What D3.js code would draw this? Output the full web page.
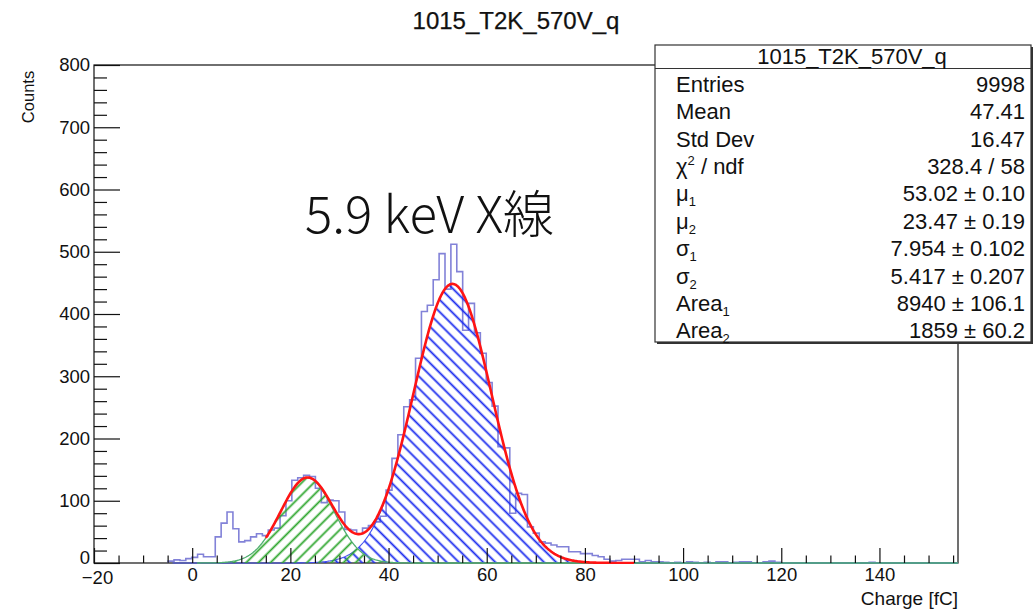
<!DOCTYPE html>
<html>
<head>
<meta charset="utf-8">
<script src="https://cdn.jsdelivr.net/npm/d3@7"></script>
<style>
  html, body { margin: 0; padding: 0; background: #fff; }
  svg { display: block; font-family: "Liberation Sans", Arial, Helvetica, sans-serif; }
</style>
</head>
<body>
<svg id="chart" width="1036" height="610"></svg>
<script>
// ---- chart content ----
const histTitle = "1015_T2K_570V_q";
const xTitle = "Charge [fC]";
const yTitle = "Counts";
const annotation = "5.9 keV X線";

const xDomain = [-20, 156];
const yDomain = [0, 800];
const xMajorTicks = [-20, 0, 20, 40, 60, 80, 100, 120, 140];
const yMajorTicks = [0, 100, 200, 300, 400, 500, 600, 700, 800];

// histogram: first bin lower edge, bin width, counts per bin
const binStart = -4.9;
const binWidth = 1.2;
const binCounts = [
  3, 5, 4, 7, 9, 14, 10, 10, 42, 64,
  82, 55, 34, 36, 42, 47, 44, 53, 56, 76,
  100, 133, 137, 141, 139, 120, 97, 101, 100, 82,
  54, 53, 47, 56, 60, 66, 75, 117, 168, 206,
  251, 262, 329, 404, 414, 455, 497, 440, 512, 468,
  374, 417, 370, 337, 290, 252, 187, 185, 80, 112,
  110, 58, 48, 34, 32, 29, 26, 26, 18, 18,
  15, 15, 12, 10, 6, 3, 4, 6, 6, 6,
  2, 4, 2, 2, 1, 0, 1, 0, 2, 1,
  0, 1, 0, 2, 2, 0, 1, 2, 2, 0,
  0, 2, 3, 1, 0, 0, 0, 0, 0, 0,
  0, 0, 0, 0, 0, 0, 0, 0, 0, 1
];

// double-gaussian fit result (component 1 = main peak, component 2 = escape peak)
const fitMu = [53.02, 23.47];
const fitSigma = [7.954, 5.417];
const fitArea = [8940, 1859];
const fitRange = [15, 90];
const componentRange = [[-4, 156], [1, 156]];

// statistics box
const statLabels = ["Entries", "Mean", "Std Dev", "χ^2 / ndf", "μ_1", "μ_2", "σ_1", "σ_2", "Area_1", "Area_2"];
const statValues = ["9998", "47.41", "16.47", "328.4 / 58", "53.02 ± 0.10", "23.47 ± 0.19",
                    "7.954 ± 0.102", "5.417 ± 0.207", "8940 ± 106.1", "1859 ± 60.2"];

// ---- layout ----
const frame = { left: 94, right: 958, top: 65, bottom: 563 };
const svg = d3.select("#chart");

const x = d3.scaleLinear().domain(xDomain).range([frame.left, frame.right]);
const y = d3.scaleLinear().domain(yDomain).range([frame.bottom, frame.top]);

const gauss = (xv, k) =>
  fitArea[k] / (fitSigma[k] * Math.sqrt(2 * Math.PI)) *
  Math.exp(-0.5 * Math.pow((xv - fitMu[k]) / fitSigma[k], 2));

const sample = (lo, hi, f) => d3.range(lo, hi + 1e-9, 0.2).map(v => [v, f(v)]);

// ---- defs: hatch patterns and clip ----
const defs = svg.append("defs");
function hatch(id, color, angle) {
  const p = defs.append("pattern")
    .attr("id", id)
    .attr("patternUnits", "userSpaceOnUse")
    .attr("width", 8.6).attr("height", 8.6)
    .attr("patternTransform", `rotate(${angle})`);
  p.append("line")
    .attr("x1", 4.3).attr("y1", -1).attr("x2", 4.3).attr("y2", 9.6)
    .attr("stroke", color).attr("stroke-width", 1.8);
}
hatch("hatchBlue", "#1a2bee", -45);
hatch("hatchGreen", "#2ea62e", 45);

defs.append("clipPath").attr("id", "frameClip")
  .append("rect")
  .attr("x", frame.left).attr("y", frame.top - 2)
  .attr("width", frame.right - frame.left).attr("height", frame.bottom - frame.top + 3);

// ---- frame ----
svg.append("rect")
  .attr("x", frame.left).attr("y", frame.top)
  .attr("width", frame.right - frame.left).attr("height", frame.bottom - frame.top)
  .attr("fill", "none").attr("stroke", "#111").attr("stroke-width", 1.2);

// ---- plotted data ----
const plot = svg.append("g").attr("clip-path", "url(#frameClip)");

// histogram outline as steps
const histPts = [[binStart, 0]];
binCounts.forEach((c, i) => {
  const lo = binStart + i * binWidth;
  histPts.push([lo, c], [lo + binWidth, c]);
});
histPts.push([binStart + binCounts.length * binWidth, 0], [xDomain[1], 0]);

plot.append("path")
  .attr("d", d3.line().x(d => x(d[0])).y(d => y(d[1]))(histPts))
  .attr("fill", "none")
  .attr("stroke", "#8282d8")
  .attr("stroke-width", 1.6)
  .attr("stroke-linejoin", "miter");

const area = d3.area().x(d => x(d[0])).y0(y(0)).y1(d => y(d[1]));
const line = d3.line().x(d => x(d[0])).y(d => y(d[1]));

// component 1 (blue)
const comp1 = sample(componentRange[0][0], componentRange[0][1], v => gauss(v, 0));
plot.append("path").attr("d", area(comp1)).attr("fill", "url(#hatchBlue)");
plot.append("path").attr("d", line(comp1))
  .attr("fill", "none").attr("stroke", "#4452f0").attr("stroke-width", 1.1);

// component 2 (green)
const comp2 = sample(componentRange[1][0], componentRange[1][1], v => gauss(v, 1));
plot.append("path").attr("d", area(comp2)).attr("fill", "url(#hatchGreen)");
plot.append("path").attr("d", line(comp2))
  .attr("fill", "none").attr("stroke", "#4fae70").attr("stroke-width", 1.3);

// total fit (red)
const total = sample(fitRange[0], fitRange[1], v => gauss(v, 0) + gauss(v, 1));
plot.append("path").attr("d", line(total))
  .attr("fill", "none").attr("stroke", "#ff1414").attr("stroke-width", 2.6)
  .attr("stroke-linejoin", "round");

// ---- axes ----
const xMinor = d3.range(xDomain[0], xDomain[1], 5).filter(v => !xMajorTicks.includes(v));
const yMinor = d3.range(yDomain[0], yDomain[1], 20).filter(v => !yMajorTicks.includes(v));

function styleAxis(g) {
  g.select(".domain").remove();
  g.selectAll(".tick line").attr("stroke", "#111").attr("stroke-width", 1.2);
  g.selectAll("text").attr("fill", "#111").attr("font-size", 18.5)
    .attr("font-family", '"Liberation Sans", Arial, Helvetica, sans-serif');
}

const xAxisG = svg.append("g").attr("transform", `translate(0,${frame.bottom})`)
  .call(d3.axisBottom(x).tickValues(xMajorTicks).tickSizeInner(-15).tickSizeOuter(0).tickPadding(5))
  .call(styleAxis);
// the leftmost label sits just below the corner, next to the y "0"
xAxisG.selectAll(".tick text").filter(d => d === xDomain[0])
  .attr("dx", 3).attr("y", 8);

svg.append("g").attr("transform", `translate(0,${frame.bottom})`)
  .call(d3.axisBottom(x).tickValues(xMinor).tickSizeInner(-7.5).tickSizeOuter(0).tickFormat(""))
  .call(styleAxis);

const yAxisG = svg.append("g").attr("transform", `translate(${frame.left},0)`)
  .call(d3.axisLeft(y).tickValues(yMajorTicks).tickSizeInner(-26).tickSizeOuter(0).tickPadding(4))
  .call(styleAxis);
yAxisG.selectAll(".tick text").filter(d => d === 0).attr("dy", "0.0em");

svg.append("g").attr("transform", `translate(${frame.left},0)`)
  .call(d3.axisLeft(y).tickValues(yMinor).tickSizeInner(-13).tickSizeOuter(0).tickFormat(""))
  .call(styleAxis);

// axis titles
svg.append("text")
  .attr("x", frame.right).attr("y", 605)
  .attr("text-anchor", "end").attr("font-size", 19).attr("fill", "#111")
  .text(xTitle);
svg.append("text")
  .attr("transform", "translate(34,97) rotate(-90)")
  .attr("text-anchor", "middle").attr("font-size", 16.5).attr("fill", "#111")
  .text(yTitle);

// title
svg.append("text")
  .attr("x", 516).attr("y", 29)
  .attr("text-anchor", "middle").attr("font-size", 24).attr("fill", "#111")
  .attr("stroke", "#111").attr("stroke-width", 0.25)
  .text(histTitle);

// annotation
svg.append("text")
  .attr("x", 305).attr("y", 233)
  .attr("font-family", '"Noto Sans CJK JP", "Noto Sans", sans-serif')
  .attr("font-size", 51).attr("font-weight", 300).attr("fill", "#111")
  .text(annotation);

// ---- statistics box ----
const box = { x: 655, y: 45, w: 376, h: 297, head: 23.5 };
const stats = svg.append("g");
stats.append("rect")
  .attr("x", box.x + 2).attr("y", box.y + 2).attr("width", box.w).attr("height", box.h)
  .attr("fill", "#333");
stats.append("rect")
  .attr("x", box.x).attr("y", box.y).attr("width", box.w).attr("height", box.h)
  .attr("fill", "#fff").attr("stroke", "#333").attr("stroke-width", 1.2);
stats.append("line")
  .attr("x1", box.x).attr("x2", box.x + box.w)
  .attr("y1", box.y + box.head).attr("y2", box.y + box.head)
  .attr("stroke", "#333").attr("stroke-width", 1.2);
stats.append("text")
  .attr("x", 852).attr("y", box.y + 19)
  .attr("text-anchor", "middle").attr("font-size", 22).attr("fill", "#111")
  .text(histTitle);

const rowTop = box.y + box.head + 1.5;
const rowH = 27.4;
statLabels.forEach((lab, i) => {
  const cy = rowTop + rowH * (i + 0.5);
  const t = stats.append("text")
    .attr("x", 676).attr("y", cy + 8)
    .attr("font-size", 22).attr("fill", "#111");
  const m = lab.match(/^([^_^]+)([_^])(\S+)(.*)$/);
  if (m) {
    t.append("tspan").text(m[1]);
    const shift = m[2] === "_" ? 5 : -9;
    t.append("tspan").attr("dy", shift).attr("font-size", 13).text(m[3]);
    if (m[4]) t.append("tspan").attr("dy", -shift).text(m[4]);
  } else {
    t.text(lab);
  }
  stats.append("text")
    .attr("x", 1025).attr("y", cy + 8)
    .attr("text-anchor", "end").attr("font-size", 22).attr("fill", "#111")
    .text(statValues[i]);
});
</script>
</body>
</html>
